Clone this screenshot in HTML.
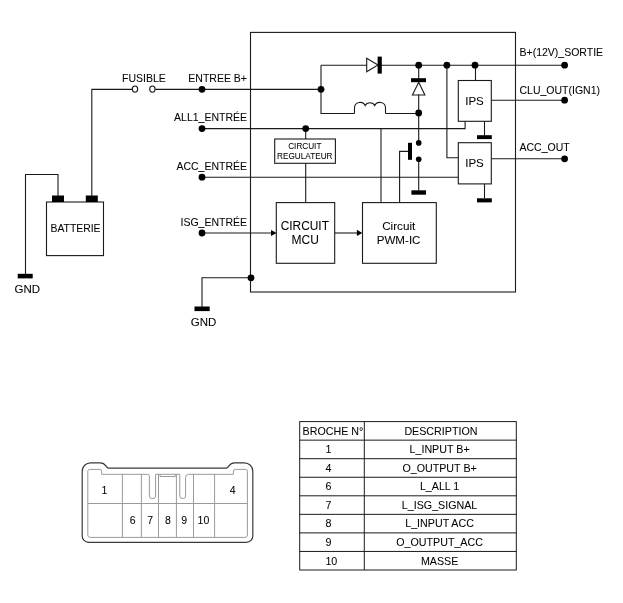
<!DOCTYPE html>
<html><head><meta charset="utf-8">
<style>
html,body{margin:0;padding:0;background:#fff;width:623px;height:603px;overflow:hidden}
svg{display:block}
text{font-family:"Liberation Sans",sans-serif;fill:#000;stroke:#000;stroke-width:0.06}
svg{will-change:transform}
</style></head><body>
<svg width="623" height="603" viewBox="0 0 623 603">
<g fill="none" stroke="#1a1a1a" stroke-width="1.1">
<!-- battery -->
<rect x="46.5" y="202" width="57" height="53.6"/>
<path d="M58 196V174.5H25.5V274"/>
<path d="M91.8 196V89.4H132.3"/>
<!-- fuse -->
<ellipse cx="135" cy="89.1" rx="2.7" ry="3.1"/>
<ellipse cx="152.4" cy="89.1" rx="2.7" ry="3.1"/>
<path d="M155.3 89.4H321"/>
<!-- main box -->
<rect x="250.5" y="32.4" width="265" height="259.6"/>
<!-- inputs -->
<path d="M202 128.6H465.1V121.3"/>
<path d="M202 177.3H458.3"/>
<path d="M202 233H272"/>
<path d="M251 277.8H202V307"/>
<!-- upper circuit -->
<path d="M321 65.2V113.5H354.5"/>
<path d="M385.5 113.5H418.7"/>
<path d="M321 65.2H367M378 65.2H564.6"/>
<path d="M418.7 65.2V79M418.7 94.5V143"/>
<path d="M418.7 159.2V190.5"/>
<path d="M354.5 113.5V108C354.5 101.3 363.3 100.8 365.1 105.6C367 101.8 372.9 101.8 374.8 105.6C376.6 100.8 385.5 101.3 385.5 108V113.5"/>
<path d="M408 151.4H399.6V202.6"/>
<path d="M381 128.6V202.6"/>
<!-- IPS -->
<rect x="458.3" y="80.5" width="33" height="40.8"/>
<rect x="458.3" y="142.7" width="33" height="41.2"/>
<path d="M475.5 65.2V80.5"/>
<path d="M491.3 100.2H564.6"/>
<path d="M484.5 121.3V135.5"/>
<path d="M446.9 65.2V157.8H458.3"/>
<path d="M491.3 158.8H564.6"/>
<path d="M484.5 183.9V198.3"/>
<!-- regulator / MCU / PWM -->
<rect x="274.7" y="139" width="60.7" height="24.3"/>
<path d="M305.7 128.6V139"/>
<path d="M305.7 163.3V202.6"/>
<rect x="276.3" y="202.6" width="58.4" height="60.7"/>
<rect x="362.5" y="202.6" width="73.8" height="60.7"/>
<path d="M334.7 233H358"/>
<!-- diode vertical triangle -->
<path d="M418.7 82.2L412.4 95H424.9Z" />
<path d="M366.7 58.2V71.8L378 65Z"/>
</g>
<g fill="#000">
<rect x="52" y="195.5" width="12" height="6.5"/>
<rect x="85.8" y="195.5" width="12" height="6.5"/>
<rect x="17.7" y="273.8" width="15" height="4.6"/>
<rect x="194.5" y="306.5" width="15.2" height="4.6"/>
<circle cx="202" cy="89.3" r="3.4"/>
<circle cx="202" cy="128.6" r="3.4"/>
<circle cx="202" cy="177.2" r="3.4"/>
<circle cx="202" cy="233" r="3.4"/>
<circle cx="251" cy="277.8" r="3.4"/>
<circle cx="321" cy="89.3" r="3.4"/>
<circle cx="418.7" cy="65.2" r="3.4"/>
<circle cx="446.9" cy="65.2" r="3.4"/>
<circle cx="475" cy="65.2" r="3.4"/>
<circle cx="564.6" cy="65.2" r="3.4"/>
<circle cx="564.6" cy="100.2" r="3.4"/>
<circle cx="564.6" cy="158.8" r="3.4"/>
<circle cx="418.7" cy="113" r="3.4"/>
<circle cx="305.7" cy="128.6" r="3.4"/>
<circle cx="418.7" cy="142.9" r="2.8"/>
<circle cx="418.7" cy="159.2" r="2.8"/>
<rect x="377.6" y="56.6" width="4.2" height="17"/>
<rect x="411" y="78.2" width="15" height="4"/>
<rect x="408" y="142.8" width="4" height="17"/>
<rect x="411.4" y="190.3" width="14.6" height="4.4"/>
<rect x="477" y="135.2" width="14.8" height="3.9"/>
<rect x="477" y="198.3" width="14.8" height="4.1"/>
<path d="M276.6 233L271 229.9V236.1Z"/>
<path d="M362.3 232.9L356.9 229.7V236.1Z"/>
</g>
<g font-size="10.5">
<text x="144" y="82" text-anchor="middle">FUSIBLE</text>
<text x="247" y="82" text-anchor="end">ENTREE B+</text>
<text x="247" y="121.3" text-anchor="end">ALL1_ENTRÉE</text>
<text x="247" y="170" text-anchor="end">ACC_ENTRÉE</text>
<text x="247" y="225.8" text-anchor="end">ISG_ENTRÉE</text>
<text x="75.5" y="231.5" text-anchor="middle" font-size="10.4">BATTERIE</text>
<text x="27.4" y="292.8" text-anchor="middle" font-size="11.5">GND</text>
<text x="203.5" y="325.8" text-anchor="middle" font-size="11.5">GND</text>
<text x="519.5" y="55.9">B+(12V)_SORTIE</text>
<text x="519.5" y="93.6">CLU_OUT(IGN1)</text>
<text x="519.5" y="151">ACC_OUT</text>
<text x="474.5" y="104.9" text-anchor="middle" font-size="11.5">IPS</text>
<text x="474.5" y="166.9" text-anchor="middle" font-size="11.5">IPS</text>
<text x="304.8" y="230" text-anchor="middle" font-size="11.9">CIRCUIT</text>
<text x="305.2" y="243.8" text-anchor="middle" font-size="12">MCU</text>
<text x="398.7" y="230.3" text-anchor="middle" font-size="11.7">Circuit</text>
<text x="398.6" y="244.2" text-anchor="middle" font-size="11.6">PWM-IC</text>
</g>
<g font-size="8.2">
<text x="304.8" y="149" text-anchor="middle">CIRCUIT</text>
<text x="304.8" y="158.7" text-anchor="middle">REGULATEUR</text>
</g>
<!-- table -->
<g fill="none" stroke="#1a1a1a" stroke-width="1">
<rect x="299.7" y="421.6" width="216.6" height="148.40"/>
<path d="M364.3 421.6V570.00"/>
<path d="M299.7 440.15H516.3M299.7 458.70H516.3M299.7 477.25H516.3M299.7 495.80H516.3M299.7 514.35H516.3M299.7 532.90H516.3M299.7 551.45H516.3"/>
</g>
<g font-size="10.7">
<text x="302.6" y="434.70">BROCHE N°</text><text x="440.9" y="434.70" text-anchor="middle">DESCRIPTION</text>
<text x="325.4" y="453.25">1</text><text x="439.6" y="453.25" text-anchor="middle">L_INPUT B+</text>
<text x="325.4" y="471.80">4</text><text x="439.6" y="471.80" text-anchor="middle">O_OUTPUT B+</text>
<text x="325.4" y="490.35">6</text><text x="439.6" y="490.35" text-anchor="middle">L_ALL 1</text>
<text x="325.4" y="508.90">7</text><text x="439.6" y="508.90" text-anchor="middle">L_ISG_SIGNAL</text>
<text x="325.4" y="527.45">8</text><text x="439.6" y="527.45" text-anchor="middle">L_INPUT ACC</text>
<text x="325.4" y="546.00">9</text><text x="439.6" y="546.00" text-anchor="middle">O_OUTPUT_ACC</text>
<text x="325.4" y="564.55">10</text><text x="439.6" y="564.55" text-anchor="middle">MASSE</text>
</g>
<!-- connector -->
<g fill="none" stroke="#3a3a3a" stroke-width="1.2">
<path d="M82.2 535.9V471.2A8.4 8.4 0 0 1 90.6 462.8H100.3C103.3 462.8 104.8 464.3 105.9 465.9C106.8 467.3 107.3 468.2 108.6 468.2H226.2C227.5 468.2 228 467.3 228.9 465.9C230 464.3 231.5 462.8 234.5 462.8H244.4A8.4 8.4 0 0 1 252.8 471.2V535.9A6.4 6.4 0 0 1 246.4 542.3H88.6A6.4 6.4 0 0 1 82.2 535.9Z"/>
</g>
<g fill="none" stroke="#9a9a9a" stroke-width="1">
<path d="M87.8 535V471.2A1.8 1.8 0 0 1 89.6 469.4H99.9A1.8 1.8 0 0 1 101.7 471.2V474.3H147.9A1.5 1.5 0 0 1 149.4 475.8V496A2.5 2.5 0 0 0 151.9 498.5H153.1A2.5 2.5 0 0 0 155.6 496V474.3H179.8V496A2.5 2.5 0 0 0 182.3 498.5H183.1A2.5 2.5 0 0 0 185.6 496V477.3A3 3 0 0 1 188.6 474.3H233.4V471.2A1.8 1.8 0 0 1 235.2 469.4H245.6A1.8 1.8 0 0 1 247.4 471.2V535A2.4 2.4 0 0 1 245 537.4H90.2A2.4 2.4 0 0 1 87.8 535Z"/>
<path d="M87.8 503.5H247.4"/>
<path d="M122.4 474.3V537.4M141.4 474.3V537.4M158.5 474.3V537.4M176.4 474.3V537.4M193.5 474.3V537.4M214.6 474.3V537.4"/>
<path d="M160.1 474.3V476.5H175.3V474.3"/>
</g>
<g font-size="10.5" text-anchor="middle">
<text x="104.3" y="494">1</text>
<text x="232.6" y="494">4</text>
<text x="132.6" y="524.3">6</text>
<text x="150.1" y="524.3">7</text>
<text x="167.9" y="524.3">8</text>
<text x="184.1" y="524.3">9</text>
<text x="203.4" y="524.3">10</text>
</g>
</svg>
</body></html>
